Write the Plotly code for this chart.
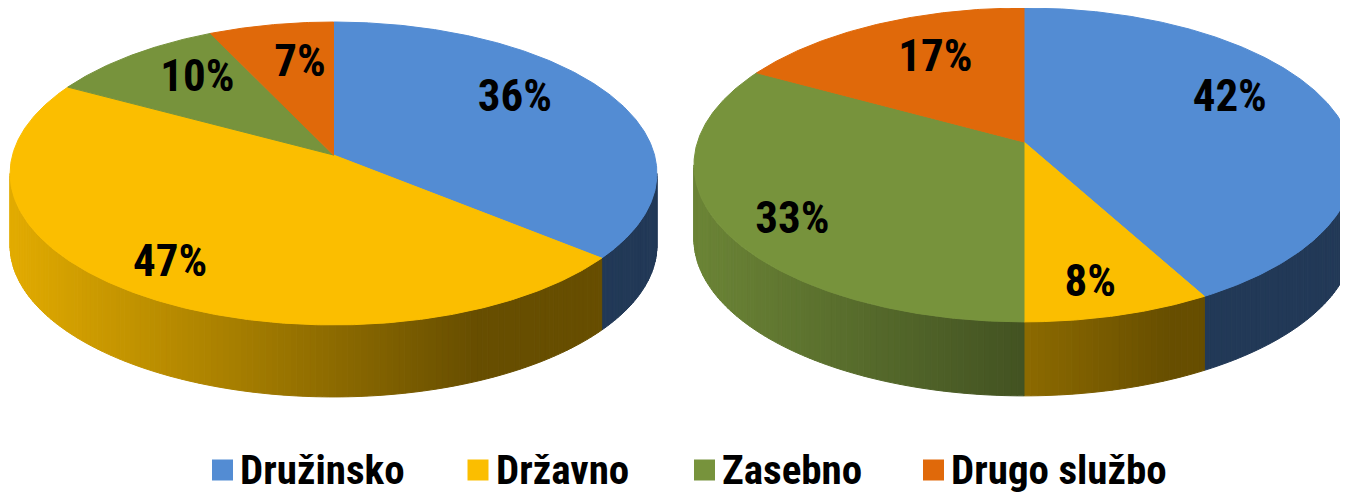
import numpy as np
import plotly.graph_objects as go

# ---------------- data ----------------
categories = ["Družinsko", "Državno", "Zasebno", "Drugo službo"]
left_values = [36, 47, 10, 7]
right_values = [42, 8, 33, 17]
colors = ["#538CD3", "#FBBE00", "#77933C", "#E0690A"]

# ---------------- geometry / style (layout only) ----------------
W, H = 1348, 494
PAGE_MARGIN = 8  # default body margin of the html page
FONT = "Liberation Sans Narrow, Arial Narrow, Roboto Condensed, Lato, sans-serif"

pies = [
    dict(values=left_values, cx=333.5, cy=155, rx=321, ry=149.2, p=0.122, depth=72,
         label_r=0.62, label_off=[(7, -17), (-44, 28), (-7, -11), (7, -6)]),
    dict(values=right_values, cx=1024, cy=142, rx=326.5, ry=153.6, p=0.146, depth=74,
         label_r=0.62, label_off=[(14, -19), (11, 42), (-49, 29), (7, -6)]),
]


def hex_rgb(h):
    h = h.lstrip("#")
    return tuple(int(h[i:i + 2], 16) for i in (0, 2, 4))


def shade(h, f):
    r, g, b = hex_rgb(h)
    return "rgb(%d,%d,%d)" % (round(r * f), round(g * f), round(b * f))


def proj(pie, th, r=1.0):
    u = r * np.sin(th)
    v = r * np.cos(th)
    z = 1 + pie["p"] * v
    return pie["cx"] + pie["rx"] * u / z, pie["cy"] - pie["ry"] * v / z


fig = go.Figure()

for pie in pies:
    vals = np.array(pie["values"], dtype=float)
    frac = vals / vals.sum()
    bounds = np.concatenate([[0], np.cumsum(frac)]) * 2 * np.pi
    d = pie["depth"]
    th_a = np.pi / 2 + np.arcsin(pie["p"])
    th_b = 3 * np.pi / 2 - np.arcsin(pie["p"])
    xmax = proj(pie, th_a)[0]
    xmin = proj(pie, th_b)[0]

    # ---- side rim (front, visible part) ----
    for i in range(len(vals)):
        s0, s1 = max(bounds[i], th_a), min(bounds[i + 1], th_b)
        if s1 <= s0:
            continue
        n = max(1, int(np.degrees(s1 - s0)))
        ths = np.linspace(s0, s1, n + 1)
        for k in range(n):
            t0, t1 = ths[k], ths[k + 1]
            x0, y0 = proj(pie, t0)
            x1, y1 = proj(pie, t1)
            t = ((x0 + x1) / 2 - xmin) / (xmax - xmin)
            f = max(0.41, 0.9 - 0.68 * t)
            c = shade(colors[i], f)
            fig.add_trace(go.Scatter(
                x=[x0, x1, x1, x0, x0], y=[y0, y1, y1 + d, y0 + d, y0],
                mode="lines", fill="toself", fillcolor=c,
                line=dict(color=c, width=1), hoverinfo="skip", showlegend=False))

    # ---- top face ----
    for i in range(len(vals)):
        n = max(4, int(np.degrees(bounds[i + 1] - bounds[i]) * 2))
        ths = np.linspace(bounds[i], bounds[i + 1], n + 1)
        xs, ys = proj(pie, ths)
        xs = np.concatenate([[pie["cx"]], xs, [pie["cx"]]])
        ys = np.concatenate([[pie["cy"]], ys, [pie["cy"]]])
        fig.add_trace(go.Scatter(
            x=xs, y=ys, mode="lines", fill="toself", fillcolor=colors[i],
            line=dict(color=colors[i], width=1), hoverinfo="skip", showlegend=False))

    # ---- labels ----
    lx, ly, lt = [], [], []
    for i in range(len(vals)):
        mid = (bounds[i] + bounds[i + 1]) / 2
        x, y = proj(pie, mid, pie["label_r"])
        dx, dy = pie["label_off"][i]
        lx.append(x + dx)
        ly.append(y + dy)
        lt.append("%d%%" % round(frac[i] * 100))
    fig.add_trace(go.Scatter(
        x=lx, y=ly, text=lt, mode="text",
        textfont=dict(family=FONT, size=45, color="black", weight="bold"),
        hoverinfo="skip", showlegend=False))

# ---------------- legend (manual) ----------------
legend_x = [222.5, 478, 704.5, 933.5]
legend_y = 470
for i, cat in enumerate(categories):
    fig.add_trace(go.Scatter(
        x=[legend_x[i]], y=[legend_y], mode="markers",
        marker=dict(symbol="square", size=21, color=colors[i], line=dict(width=0)),
        hoverinfo="skip", showlegend=False))
    fig.add_annotation(
        x=legend_x[i] + 16.5, y=legend_y, text=cat, showarrow=False,
        xanchor="left", yanchor="middle", xref="x", yref="y", borderpad=0,
        font=dict(family=FONT, size=41, color="black", weight="bold"))

fig.update_layout(
    width=W - PAGE_MARGIN, height=H - PAGE_MARGIN,
    margin=dict(l=0, r=0, t=0, b=0),
    paper_bgcolor="white", plot_bgcolor="white",
    xaxis=dict(range=[PAGE_MARGIN, W], visible=False, fixedrange=True),
    yaxis=dict(range=[H, PAGE_MARGIN], visible=False, fixedrange=True),
    showlegend=False,
)

fig.write_html("out.html")
